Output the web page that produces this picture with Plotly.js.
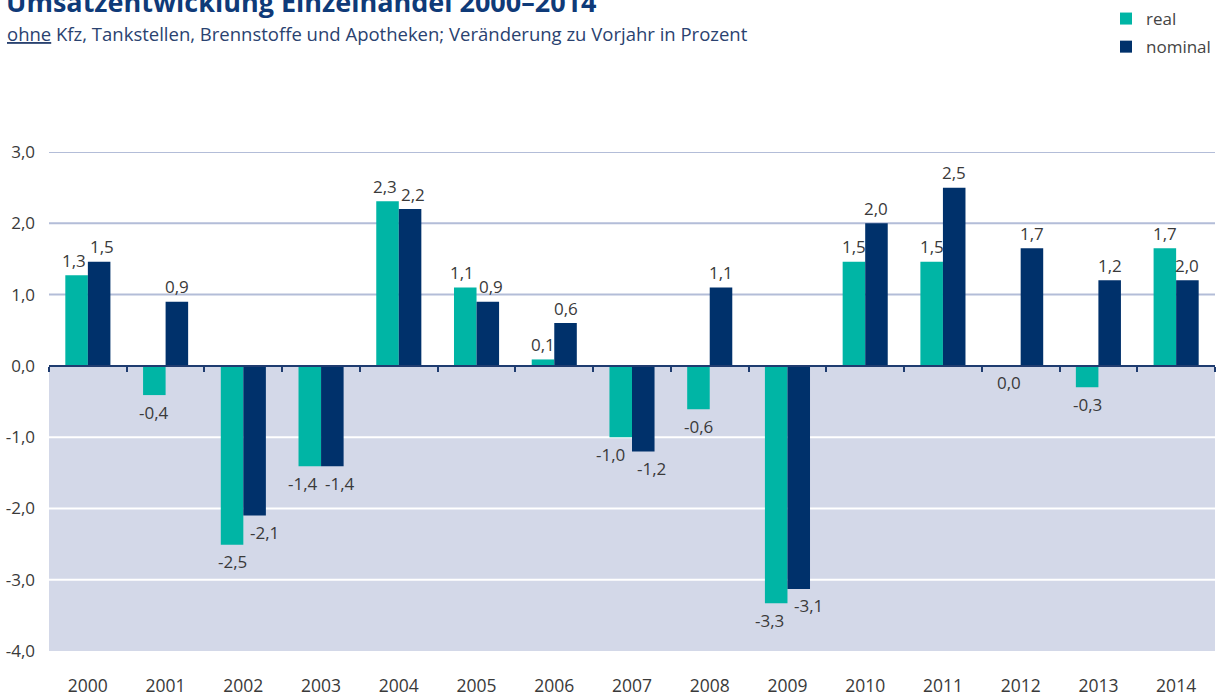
<!DOCTYPE html>
<html>
<head>
<meta charset="utf-8">
<script src="https://cdn.plot.ly/plotly-3.0.1.min.js"></script>
<style>
  html, body { margin: 0; padding: 0; background: #ffffff; }
  #chart { width: 1216px; height: 697px; }
</style>
</head>
<body>
<div id="chart"></div>
<script>
// ---- data ----
const years = ["2000","2001","2002","2003","2004","2005","2006","2007","2008","2009","2010","2011","2012","2013","2014"];
const realValues    = [1.27, -0.41, -2.51, -1.41, 2.31, 1.10, 0.09, -1.00, -0.61, -3.33, 1.46, 1.46, 0.00, -0.30, 1.65];
const nominalValues = [1.46,  0.90, -2.10, -1.41, 2.20, 0.90, 0.60, -1.20,  1.10, -3.13, 2.00, 2.50, 1.65,  1.20, 1.20];
const realLabels    = ["1,3","-0,4","-2,5","-1,4","2,3","1,1","0,1","-1,0","-0,6","-3,3","1,5","1,5","0,0","-0,3","1,7"];
const nominalLabels = ["1,5","0,9","-2,1","-1,4","2,2","0,9","0,6","-1,2","1,1","-3,1","2,0","2,5","1,7","1,2","2,0"];
const yTicks = [-4, -3, -2, -1, 0, 1, 2, 3];
const seriesNames = ["real", "nominal"];
const titleText = "Umsatzentwicklung Einzelhandel 2000–2014";
const subtitleText = "<u>ohne</u> Kfz, Tankstellen, Brennstoffe und Apotheken; Veränderung zu Vorjahr in Prozent";

// ---- style ----
const TEAL = "#00b5a5";
const NAVY = "#00316b";
const SHADE = "#d3d8e8";
const GRID = "#b3bdd8";
const ZERO = "#1f3c70";
const FONT = "Open Sans, Noto Sans, sans-serif";
const TXT = "#3a3a3a";

const W = 1216, H = 697;
const M = {l: 49, r: 0, t: 152, b: 46};
const plotH = H - M.t - M.b;
const plotW = W - M.l - M.r;
const yMin = -4, yMax = 3;
const pyFromPx = px => (H - M.b - px) / plotH;
const pxFromPx = px => (px - M.l) / plotW;
const fmt = v => v.toFixed(1).replace(".", ",");

const traces = [
  {type: "bar", name: seriesNames[0], x: years, y: realValues, marker: {color: TEAL},
   legendgroup: "g1", hoverinfo: "skip"},
  {type: "bar", name: seriesNames[1], x: years, y: nominalValues, marker: {color: NAVY},
   legendgroup: "g2", hoverinfo: "skip"},
  {type: "scatter", mode: "none", x: years, y: realValues, xaxis: "x2", yaxis: "y",
   showlegend: false, hoverinfo: "skip"}
];

// gridlines and shaded negative area
const shapes = [{
  type: "rect", xref: "paper", yref: "y", x0: 0, x1: 1, y0: yMin, y1: 0,
  fillcolor: SHADE, line: {width: 0}, layer: "below"
}];
yTicks.forEach(v => {
  if (v === 0 || v === yMin) return;
  shapes.push({
    type: "line", xref: "paper", yref: "y", x0: 0, x1: 1, y0: v, y1: v,
    line: {color: v > 0 ? GRID : "#ffffff", width: 2}, layer: "below"
  });
});

// value labels (x given as category index); labels are nudged away from a neighbour bar
const annotations = [];
const half = plotW / years.length * (1 - 0.42) / 4;
const pxPerUnit = plotH / (yMax - yMin);
const POS_SHIFT = 15, NEG_SHIFT = -17;
years.forEach((yr, i) => {
  const a = realValues[i], b = nominalValues[i];
  const pair = [[a, b, realLabels[i], -half, -1], [b, a, nominalLabels[i], half, 1]];
  const close = (a > 0) === (b > 0) && Math.abs(a - b) * pxPerUnit < 20;
  pair.forEach(([v, other, lab, dx, side]) => {
    const pos = v > 0;
    let extra = 0;
    if (pos) {
      if (close) extra = side * 3;
    } else {
      const labelTopPx = -v * pxPerUnit - NEG_SHIFT - 8;   // distance below zero line
      const otherEndPx = -other * pxPerUnit;
      if (other < 0 && other < v && labelTopPx < otherEndPx) extra = side * 10;
      else if (close) extra = side < 0 ? -7 : 8;
    }
    annotations.push({
      x: i, y: v, xref: "x", yref: "y", text: lab, showarrow: false,
      xanchor: "center", yanchor: "middle", xshift: dx + extra, yshift: pos ? POS_SHIFT : NEG_SHIFT,
      font: {family: FONT, size: 17, color: TXT}
    });
  });
});
// title and subtitle
annotations.push({
  xref: "paper", yref: "paper", x: pxFromPx(4), y: pyFromPx(1), xanchor: "left", yanchor: "middle",
  text: "<b>" + titleText + "</b>", showarrow: false,
  font: {family: FONT, size: 27, color: "#0f3a78"}
});
annotations.push({
  xref: "paper", yref: "paper", x: pxFromPx(5), y: pyFromPx(33), xanchor: "left", yanchor: "middle",
  text: subtitleText, showarrow: false,
  font: {family: FONT, size: 18.5, color: "#2a4270"}
});

const layout = {
  width: W, height: H,
  margin: M,
  paper_bgcolor: "#ffffff", plot_bgcolor: "rgba(0,0,0,0)",
  separators: ",.",
  barmode: "group", bargap: 0.42, bargroupgap: 0,
  font: {family: FONT, size: 17, color: TXT},
  showlegend: true,
  legend: {
    x: pxFromPx(1107), y: pyFromPx(1), xanchor: "left", yanchor: "top",
    font: {family: FONT, size: 17, color: "#444"}, bgcolor: "rgba(0,0,0,0)",
    tracegroupgap: 3, traceorder: "grouped"
  },
  xaxis: {
    type: "category", range: [-0.5, years.length - 0.5], showgrid: false, zeroline: false,
    showline: false, ticks: "", ticklabelstandoff: 22, fixedrange: true,
    tickfont: {family: FONT, size: 17.5, color: TXT}
  },
  xaxis2: {
    type: "category", overlaying: "x", anchor: "free", position: (0 - yMin) / (yMax - yMin),
    range: [-0.5, years.length - 0.5], showgrid: false, zeroline: false,
    showline: true, linecolor: ZERO, linewidth: 2,
    ticks: "outside", tickson: "boundaries", ticklen: 5, tickwidth: 2, tickcolor: ZERO,
    showticklabels: false, fixedrange: true
  },
  yaxis: {
    range: [yMin, yMax], tickvals: yTicks, ticktext: yTicks.map(fmt), showgrid: false, zeroline: false,
    showline: false, ticks: "", ticklabelstandoff: 13, fixedrange: true,
    tickfont: {family: FONT, size: 17, color: TXT}
  },
  shapes: shapes,
  annotations: annotations
};

Plotly.newPlot("chart", traces, layout, {displayModeBar: false, staticPlot: true});
</script>
</body>
</html>
